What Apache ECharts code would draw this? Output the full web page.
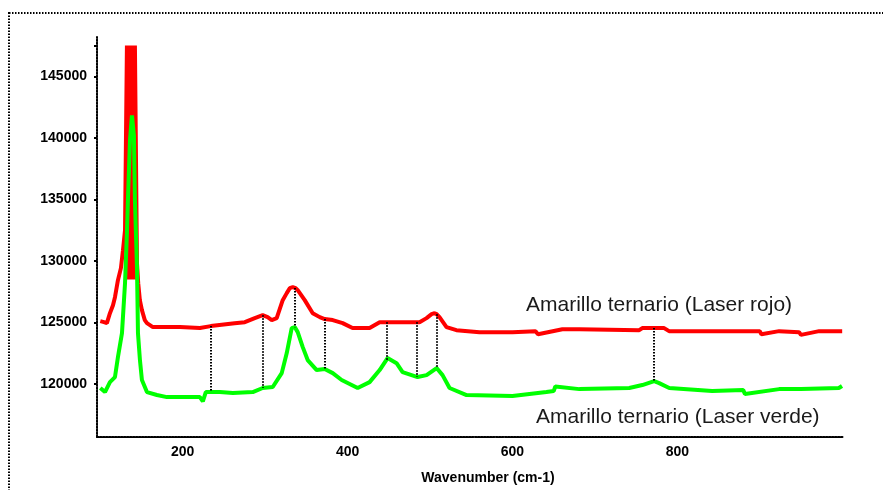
<!DOCTYPE html>
<html>
<head>
<meta charset="utf-8">
<script src="https://cdn.jsdelivr.net/npm/echarts@6/dist/echarts.min.js"></script>
<style>
  html, body { margin: 0; padding: 0; background: #fff; }
  #main { width: 883px; height: 490px; }
</style>
</head>
<body>
<div id="main"></div>
<script>
// espectro Raman - laser rojo
var redWavenumber = [100, 104.5, 108, 111.7, 115.4, 117.8, 121.4, 125, 127.5, 130, 132.3, 133.5, 134.7, 136, 137.2, 138.4, 139.6, 140.8, 142, 144.5, 146, 148, 150.5, 154, 156.6, 163.8, 196.6, 220.8, 234, 263, 275.3, 287.4, 297, 303, 308, 314, 321.3, 326.2, 329.8, 333.5, 337, 339.5, 348, 357.7, 366.2, 372.2, 382, 394, 406, 426.7, 438.9, 447.3, 471.6, 483.7, 487.3, 495.8, 501.9, 505.5, 508, 511.5, 520, 532, 560, 600, 628, 631, 660.6, 681.2, 753.8, 757.5, 784, 790, 850.8, 900, 902, 923.5, 947.7, 950, 972, 1000];
var redIntensity = [125110, 125030, 124950, 125760, 126410, 127060, 128440, 129420, 130880, 132500, 147500, 128500, 147500, 128500, 147500, 128500, 147500, 128500, 147500, 129820, 128200, 126820, 126010, 125200, 124950, 124630, 124630, 124550, 124710, 124950, 125030, 125360, 125600, 125440, 125200, 125360, 126820, 127390, 127790, 127870, 127790, 127630, 126820, 125760, 125440, 125280, 125200, 124950, 124550, 124550, 125030, 125030, 125030, 125030, 125030, 125360, 125680, 125760, 125680, 125440, 124630, 124380, 124220, 124220, 124300, 124050, 124460, 124460, 124380, 124550, 124550, 124300, 124300, 124300, 124050, 124300, 124220, 124000, 124300, 124300];

// espectro Raman - laser verde
var greenWavenumber = [100, 105.7, 111.7, 117.8, 121.4, 126.3, 130, 132.3, 133.5, 136, 138.4, 140.8, 142, 144.5, 145.7, 148.1, 150.5, 156.6, 168.7, 180.8, 205, 220.8, 224.4, 228, 233, 245, 260.8, 285, 297, 309.2, 320.1, 326.2, 332.2, 335.9, 339.5, 345.6, 351.6, 362.5, 372.2, 382, 392.8, 412.2, 426.7, 438.9, 448.5, 459.4, 466.7, 484.9, 495.8, 508, 515.2, 523.7, 544.3, 600, 641.2, 650, 652, 681.2, 741.7, 757.5, 772, 778, 790.2, 842.3, 880, 882, 923.5, 950, 996, 999.8];
var greenIntensity = [119680, 119350, 120160, 120570, 122190, 124140, 128200, 132260, 134940, 139800, 141830, 140210, 134940, 129500, 124140, 121950, 120330, 119350, 119110, 118940, 118940, 118940, 118600, 119350, 119350, 119350, 119270, 119350, 119680, 119760, 120890, 122520, 124550, 124630, 124220, 123000, 121950, 121140, 121220, 120890, 120330, 119680, 120160, 121140, 122110, 121700, 120970, 120570, 120730, 121300, 120730, 119680, 119110, 119030, 119350, 119430, 119800, 119590, 119680, 119920, 120240, 120080, 119680, 119430, 119510, 119200, 119590, 119590, 119680, 119840];

// posiciones de las lineas de correspondencia
var markerWavenumber = [234, 297, 336, 372, 447, 484, 508, 772];

var yTickValues = [120000, 125000, 130000, 135000, 140000, 145000];
var yTickMarks = [120000, 125000, 130000, 135000, 140000, 145000, 147500];
var xTickValues = [200, 400, 600, 800];

function toPairs(xs, ys) {
  var out = [];
  for (var i = 0; i < xs.length; i++) out.push([xs[i], ys[i]]);
  return out;
}

// interpolacion lineal sobre los datos del espectro
function valueAt(xs, ys, w) {
  for (var i = 1; i < xs.length; i++) {
    if (w <= xs[i]) {
      var t = (w - xs[i - 1]) / (xs[i] - xs[i - 1]);
      return ys[i - 1] + t * (ys[i] - ys[i - 1]);
    }
  }
  return ys[ys.length - 1];
}

var markLines = markerWavenumber.map(function (w) {
  return [
    { coord: [w, valueAt(redWavenumber, redIntensity, w)] },
    { coord: [w, valueAt(greenWavenumber, greenIntensity, w)] }
  ];
});

var chart = echarts.init(document.getElementById('main'), null, { renderer: 'canvas' });

var option = {
  animation: false,
  backgroundColor: '#fff',
  grid: { left: 97, top: 37, right: 40, bottom: 53 },
  xAxis: {
    type: 'value',
    min: 96,
    max: 1001,
    axisLine: { show: true, onZero: false, lineStyle: { color: '#000', width: 2, type: [1.5, 1.5] } },
    axisTick: { show: false },
    splitLine: { show: false },
    axisLabel: {
      customValues: xTickValues,
      color: '#000',
      fontFamily: 'Liberation Sans',
      fontWeight: 'bold',
      fontSize: 14,
      margin: 8
    }
  },
  yAxis: {
    type: 'value',
    min: 115700,
    max: 148200,
    axisLine: { show: true, lineStyle: { color: '#000', width: 2, type: [1.5, 1.5] } },
    axisTick: { show: true, customValues: yTickMarks, length: 3, lineStyle: { color: '#000', width: 2 } },
    splitLine: { show: false },
    axisLabel: {
      customValues: yTickValues,
      formatter: function (v) { return String(v); },
      color: '#000',
      fontFamily: 'Liberation Sans',
      fontWeight: 'bold',
      fontSize: 14,
      margin: 10
    }
  },
  graphic: [
    {
      type: 'rect',
      shape: { x: 9, y: 13, width: 900, height: 500 },
      style: { fill: null, stroke: '#000', lineWidth: 2, lineDash: [1.5, 1.5] },
      silent: true
    },
    {
      type: 'text',
      x: 526, y: 305,
      style: { text: 'Amarillo ternario (Laser rojo)', fill: '#1a1a1a', font: '21px "Liberation Sans"', textVerticalAlign: 'middle' }
    },
    {
      type: 'text',
      x: 536, y: 417,
      style: { text: 'Amarillo ternario (Laser verde)', fill: '#1a1a1a', font: '21px "Liberation Sans"', textVerticalAlign: 'middle' }
    },
    {
      type: 'text',
      x: 488, y: 478,
      style: { text: 'Wavenumber (cm-1)', fill: '#000', font: 'bold 14px "Liberation Sans"', textAlign: 'center', textVerticalAlign: 'middle' }
    }
  ],
  series: [
    {
      name: 'Laser rojo',
      type: 'line',
      data: toPairs(redWavenumber, redIntensity),
      showSymbol: false,
      lineStyle: { color: '#ff0000', width: 4 },
      itemStyle: { color: '#ff0000' }
    },
    {
      name: 'Laser verde',
      type: 'line',
      data: toPairs(greenWavenumber, greenIntensity),
      showSymbol: false,
      lineStyle: { color: '#00ff00', width: 4 },
      itemStyle: { color: '#00ff00' },
      markLine: {
        silent: true,
        symbol: 'none',
        label: { show: false },
        lineStyle: { color: '#000', width: 2, type: [1.5, 1.5] },
        data: markLines
      }
    }
  ]
};

chart.setOption(option);
</script>
</body>
</html>
